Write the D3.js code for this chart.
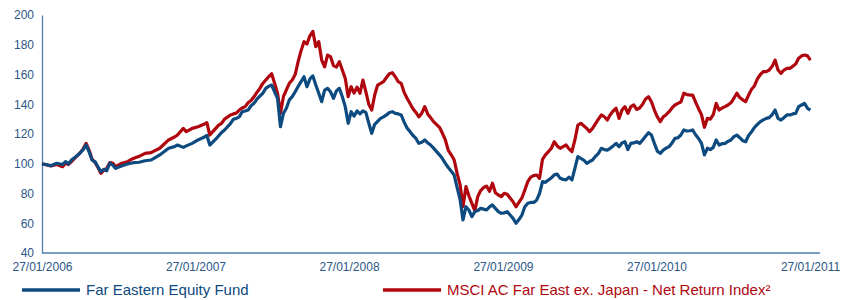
<!DOCTYPE html>
<html>
<head>
<meta charset="utf-8">
<script src="https://cdn.jsdelivr.net/npm/d3@7"></script>
<style>
  body { margin: 0; background: #fff; }
  svg { display: block; font-family: 'Liberation Sans', Arial, sans-serif; }
</style>
</head>
<body>
<svg width="852" height="300"></svg>
<script>
// weekly observations: week number counted from 27/01/2006
const weeks = [
  0, 3, 5, 7, 8, 9, 10, 12, 13, 14, 15, 16, 17, 18, 19, 20, 21, 22, 23, 24, 25, 27, 29, 31, 33, 35, 37, 40,
  43, 45, 46, 48, 49, 51, 53, 55, 56, 57, 59, 60, 61, 62, 64, 65, 66, 67, 68, 69, 70, 71, 72, 73, 74, 75,
  76, 77, 78, 79, 80, 81, 82, 83, 84, 85, 86, 87, 88, 89, 90, 91, 92, 93, 94, 95, 96, 97, 98, 99, 100,
  101, 102, 103, 104, 105, 106, 107, 108, 109, 110, 111, 112, 113, 114, 115, 116, 117, 118, 119, 120,
  121, 122, 123, 124, 125, 126, 127, 128, 129, 130, 131, 132, 133, 135, 136, 137, 138, 139, 140, 141,
  142, 143, 144, 145, 146, 147, 148, 149, 150, 151, 152, 153, 154, 155, 156, 157, 158, 159, 160, 161,
  162, 163, 164, 165, 166, 167, 168, 169, 170, 171, 172, 173, 174, 175, 176, 177, 178, 179, 180, 181,
  182, 183, 184, 185, 186, 187, 188, 189, 190, 191, 192, 193, 194, 195, 196, 197, 198, 199, 200, 201,
  202, 203, 204, 205, 206, 207, 208, 209, 210, 211, 212, 213, 214, 215, 216, 217, 218, 219, 220, 221,
  222, 223, 224, 225, 226, 227, 228, 229, 230, 231, 232, 233, 234, 235, 236, 237, 238, 239, 240, 241,
  242, 243, 244, 245, 246, 247, 248, 249, 250, 251, 252, 253, 254, 255, 256, 257, 258, 259, 260, 261
];

const fund = [
  100, 98.7, 100.3, 99.5, 101.4, 100, 102.5, 105.5, 107.4, 109.5, 112.6, 108, 102.5, 101.4, 98, 94.7, 96.3,
  95.3, 100.3, 99.2, 96.9, 98.5, 99.8, 100.7, 101, 102, 102.5, 105.9,
  110.4, 111.5, 112.6, 111, 112, 113.7, 116, 117.8, 119, 112.6, 116.5, 118.7, 121, 122.7, 127, 129.9,
  130.5, 131.5, 135, 135.5, 136.1, 139, 140.6, 143.5, 145.5, 147.4,
  150.7, 152, 152.9, 148.4, 144, 124.9, 133.9, 137.3, 142.9, 145.1, 148.4, 152, 155.2, 158.5, 151.8,
  157, 159, 152.9, 147.4, 141.7, 149.5, 150.7, 148.4, 144, 149,
  150.7, 145.1, 138.4, 127.2, 135, 132, 135.5, 133.5, 135.5, 134.5, 127.2, 120.5, 126.5, 128.5, 130.5,
  131.5, 132.8, 134.5, 135, 133.9,
  133.5, 132.8, 128, 124, 121.6, 119, 117, 113.7, 114.5, 116, 114, 112.6, 110.5, 106, 103.5, 100.3, 97.5,
  95, 92.4, 84,
  76, 62.2, 71.1, 68.9, 64.4, 67.8, 68.5, 70, 69.5, 68.9, 71, 72.3, 70, 67.8, 66.7, 67, 67.8, 65.5, 63.3, 60,
  62.5, 65.5, 71.1, 73.4, 74, 74, 75.5, 80, 88, 87.5, 89.1, 90.5, 92.5, 93, 90.2, 89.5, 89.1, 91, 89.1, 96.9,
  104.8, 103.6, 102.5, 100.3, 101.5, 102.5, 105, 107, 110.4, 109.5, 109.2, 110.4, 112, 113.7, 111.5, 114,
  114.8, 109.5, 113.7, 114,
  114.8, 113.7, 116, 118.5, 120.9, 119.3, 113.7, 108.5, 107, 109.2, 110.5, 111.5, 114, 117.1, 117.5, 119.3,
  122.7, 122, 122.2, 122.7,
  119.5, 117, 113.7, 105.9, 110.4, 109.5, 111, 116, 112.6, 113.5, 113.7, 115, 116, 118.2, 119.3, 117.5,
  115.5, 114.8, 119, 121.5,
  124.5, 126.5, 128.3, 129.5, 130.5, 131, 133, 136.1, 130.5, 129.4, 131, 132.8, 132.8, 133.5, 133.9,
  138.4, 139.5, 140.6, 137.3, 136.1
];

const msci = [
  100, 98.5, 99.5, 98, 100.5, 99.5, 101.5, 105.5, 107.5, 110, 113.7, 109, 103, 101, 97.5, 93.6, 95.5,
  97, 100.7, 100.5, 98, 100.3, 101.4, 103.6, 105, 107, 107.5, 110.4,
  116, 118, 119.3, 123.8, 121.6, 123.8, 124.9, 126.5, 127.6, 119.3, 123.8, 126, 127.2, 130, 132.8, 133.5,
  134, 136.1, 137.5, 138.4, 141, 142.5, 145, 148, 150.7, 154,
  156.3, 158.5, 160.5, 154.1, 147.4, 133.9, 145.1, 149.6, 154.1, 156.3, 160, 168.6, 176, 182.1, 180.5,
  186, 189, 178.7, 182.1, 169.7, 165.2, 173, 172, 166, 165,
  168.6, 163, 157.4, 145.1, 151.8, 147.5, 151.5, 147.4, 156.3, 148.4, 140, 136.1, 146.2, 152.9, 154,
  155.2, 158, 160.5, 161.2, 158.5,
  155.2, 154.1, 148, 144, 140.5, 137, 134.5, 131.5, 134, 138.4, 133.5, 131, 128.3, 124.5, 120.5, 116, 109,
  106, 102.5, 93.5,
  86, 71.1, 84.6, 78.5, 73.4, 68.5, 77.9, 82, 84, 85, 81.5, 86.9, 80.5, 79, 77.9, 80.1, 79.5, 77, 74.5, 71.1,
  74, 77, 82.4, 88, 91, 92, 92.4, 90.2, 103, 106, 108.1, 110.4, 114.8, 112, 110.4, 111.5, 112.6, 110, 108.1, 116,
  126, 127.2, 125.5, 123.8, 121.6, 123.8, 127, 130, 132.8, 131.6, 129.4, 133, 135.5, 137.3, 130.5, 136.1,
  138.4, 133.9, 138.4, 139.5,
  136.5, 137.5, 140, 143.5, 145.1, 141.7, 136.1, 131.5, 128.3, 131.5, 133, 135, 137.5, 139.5, 140.6, 141.5,
  147.4, 146.5, 146.2, 146.2,
  141.5, 137, 133, 124.5, 130.5, 130, 133, 140.6, 136.1, 137.5, 138.4, 139.5, 141, 144, 147.4, 144.5,
  143, 141.7, 146.2, 150,
  152.5, 157, 160, 161.9, 161.9, 163, 165.5, 169.7, 163, 160.8, 163, 164.1, 164.1, 165.5, 167,
  170.9, 172.5, 173.1, 172.5, 169.7
];

const yTicks = [40, 60, 80, 100, 120, 140, 160, 180, 200];
const xTickYears = [2006, 2007, 2008, 2009, 2010, 2011];
const legendLabels = ['Far Eastern Equity Fund', 'MSCI AC Far East ex. Japan - Net Return Index\u00b2'];

const blue = '#0d4a7f';
const red = '#b0060e';
const axisColor = '#4f7fb0';
const textColor = '#2b5687';

const svg = d3.select('svg');
const startDate = new Date(2006, 0, 27);

const x = d3.scaleTime()
  .domain([startDate, new Date(2011, 0, 27)])
  .range([42, 810]);
const y = d3.scaleLinear()
  .domain([40, 200])
  .range([253, 15]);

const rows = weeks.map((w, i) => ({
  date: d3.timeDay.offset(startDate, w * 7),
  fund: fund[i],
  msci: msci[i]
}));

// y axis
const yAxis = svg.append('g')
  .attr('transform', 'translate(42,0)')
  .call(d3.axisLeft(y).tickValues(yTicks).tickSize(0).tickSizeOuter(0).tickPadding(8));
yAxis.select('.domain').attr('stroke', axisColor).attr('stroke-width', 1.3);
yAxis.selectAll('text')
  .attr('fill', textColor)
  .style('font-size', '12px');

// x axis
const xAxis = svg.append('g')
  .attr('transform', 'translate(0,253)')
  .call(d3.axisBottom(x)
    .tickValues(xTickYears.map(yr => new Date(yr, 0, 27)))
    .tickFormat(d3.timeFormat('%d/%m/%Y'))
    .tickSize(0)
    .tickPadding(9));
xAxis.select('.domain').remove();
xAxis.append('line')
  .attr('x1', 42)
  .attr('x2', 820)
  .attr('stroke', axisColor)
  .attr('stroke-width', 1.3);
xAxis.selectAll('text')
  .attr('fill', textColor)
  .style('font-size', '12px');

const line = key => d3.line()
  .x(d => x(d.date))
  .y(d => y(d[key]));

svg.append('path')
  .datum(rows)
  .attr('fill', 'none')
  .attr('stroke', red)
  .attr('stroke-width', 3.2)
  .attr('stroke-linejoin', 'round')
  .attr('d', line('msci'));

svg.append('path')
  .datum(rows)
  .attr('fill', 'none')
  .attr('stroke', blue)
  .attr('stroke-width', 3.2)
  .attr('stroke-linejoin', 'round')
  .attr('d', line('fund'));

// legend
const legend = svg.append('g').attr('transform', 'translate(0,290)');
const legendItems = [
  { label: legendLabels[0], color: blue, x: 22 },
  { label: legendLabels[1], color: red, x: 383 }
];
legendItems.forEach((item) => {
  legend.append('line')
    .attr('x1', item.x)
    .attr('x2', item.x + 58)
    .attr('stroke', item.color)
    .attr('stroke-width', 3.5);
  legend.append('text')
    .attr('x', item.x + 64)
    .attr('dy', '0.35em')
    .attr('fill', item.color)
    .style('font-size', '15px')
    .text(item.label);
});
</script>
</body>
</html>
